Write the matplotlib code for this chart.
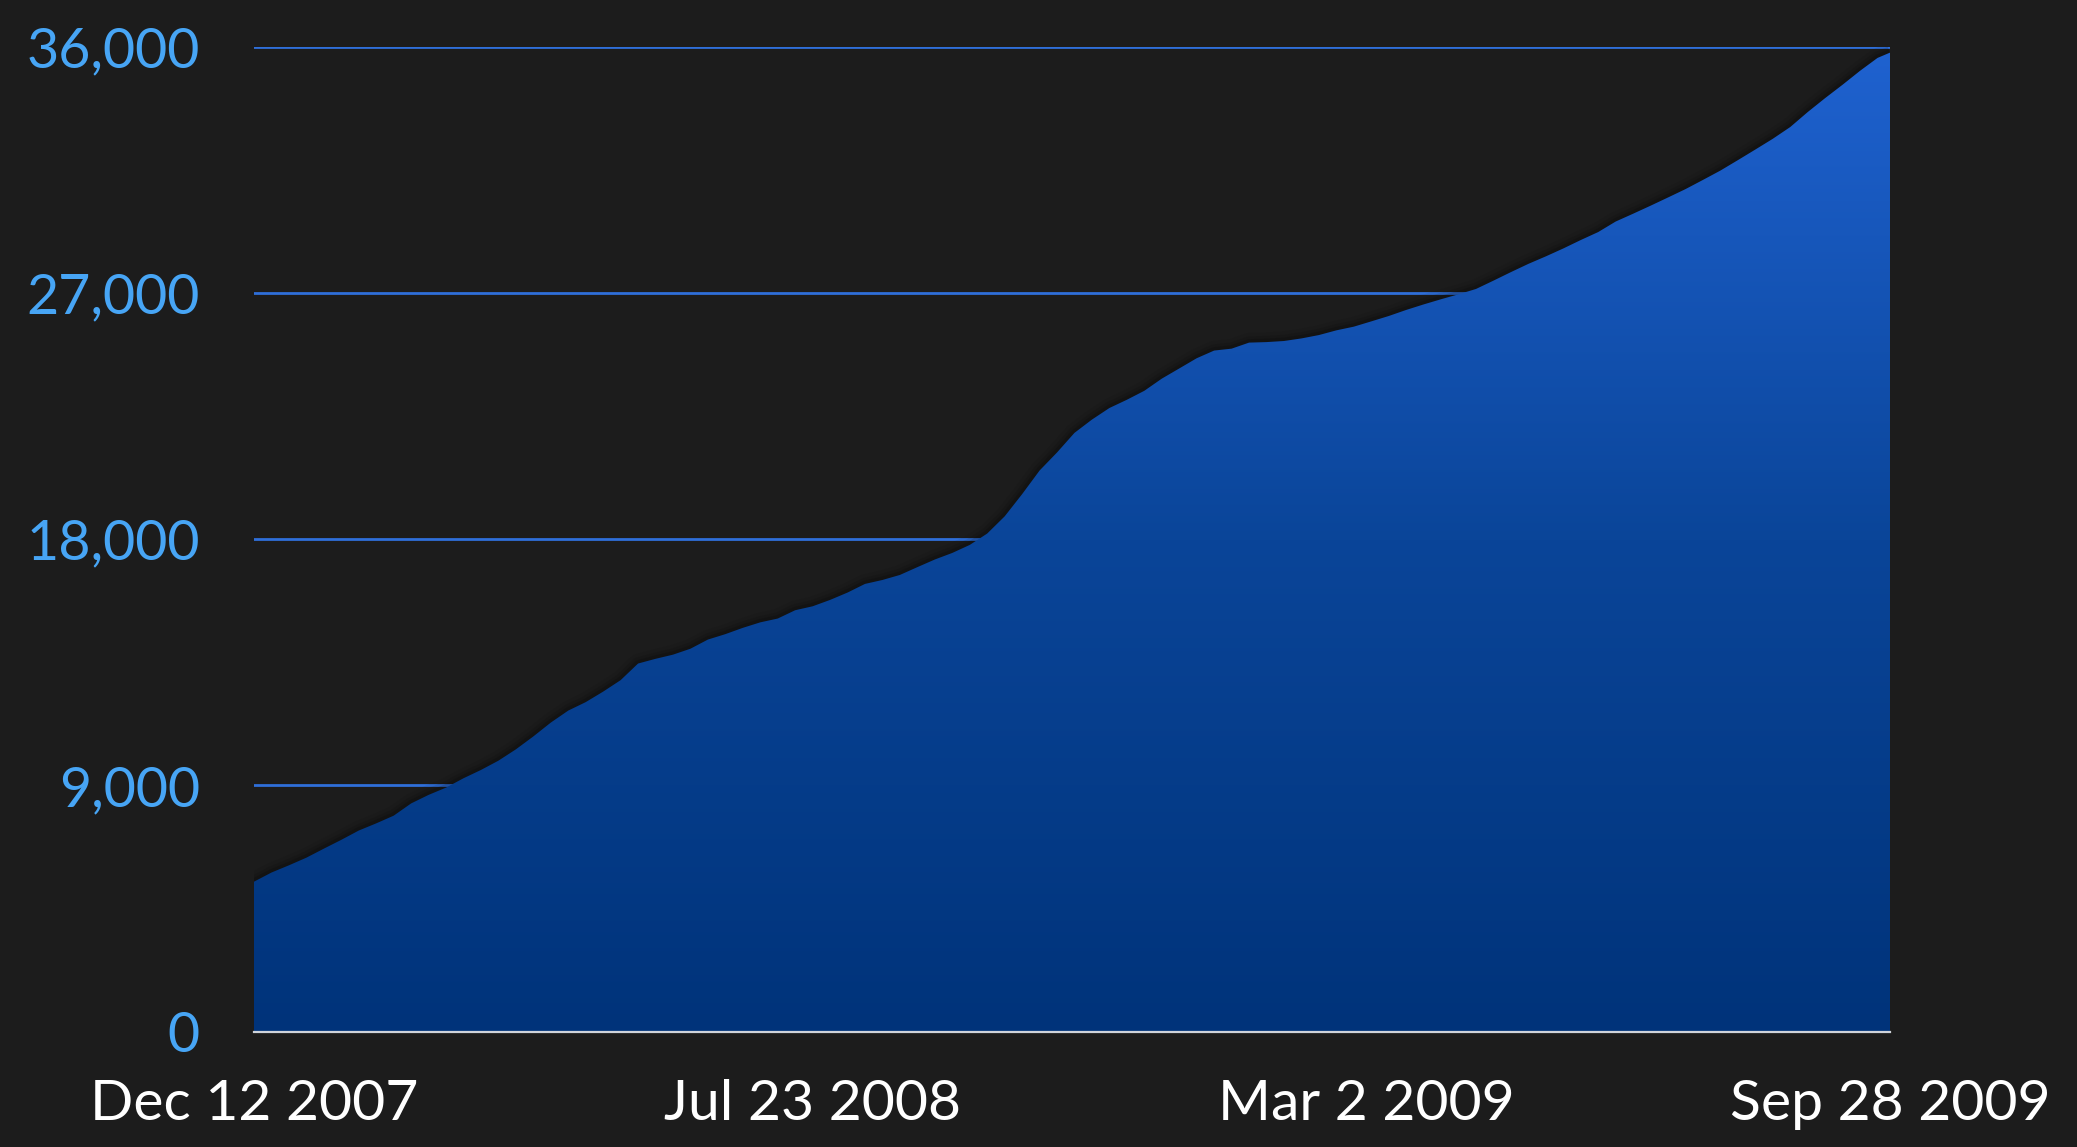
import matplotlib
matplotlib.use("Agg")
import matplotlib.pyplot as plt
import matplotlib.dates as mdates
from matplotlib.colors import LinearSegmentedColormap
import numpy as np
import pandas as pd

# ---- data (weekly readings from Dec 12 2007, last point Sep 28 2009) ----
start_date = "2007-12-12"
end_date = "2009-09-28"
values = [
    5483, 5817, 6081, 6360, 6690, 7012, 7352, 7614, 7895, 8343,
    8655, 8921, 9263, 9566, 9905, 10319, 10791, 11297, 11736, 12045,
    12429, 12848, 13456, 13628, 13780, 13997, 14332, 14530, 14760, 14961,
    15100, 15404, 15548, 15781, 16050, 16366, 16510, 16694, 16979, 17258,
    17498, 17791, 18207, 18835, 19647, 20510, 21170, 21887, 22372, 22795,
    23096, 23424, 23868, 24240, 24614, 24895, 24964, 25185, 25204, 25244,
    25338, 25461, 25633, 25768, 25961, 26157, 26379, 26581, 26771, 26952,
    27146, 27450, 27762, 28063, 28337, 28626, 28934, 29226, 29610, 29896,
    30189, 30490, 30795, 31131, 31473, 31854, 32241, 32634, 33064, 33611,
    34122, 34611, 35120, 35590, 35784,
]
y_ticks = [0, 9000, 18000, 27000, 36000]
y_tick_labels = ["0", "9,000", "18,000", "27,000", "36,000"]
x_tick_dates = ["2007-12-12", "2008-07-23", "2009-03-02", "2009-09-28"]
x_tick_labels = ["Dec 12 2007", "Jul 23 2008", "Mar 2 2009", "Sep 28 2009"]

dates = list(pd.date_range(start_date, periods=len(values) - 1, freq="7D")) + [pd.Timestamp(end_date)]
x = mdates.date2num(dates)
y = np.array(values, dtype=float)

# ---- figure ----
W, H = 2077, 1147
dpi = 100
bg = "#1c1c1c"
fig = plt.figure(figsize=(W / dpi, H / dpi), dpi=dpi, facecolor=bg)
ax = fig.add_axes([254 / W, 1 - 1031.7 / H, (1890 - 254) / W, (1031.7 - 46.7) / H])
ax.set_facecolor(bg)

x0, x1 = mdates.date2num(pd.Timestamp(start_date)), mdates.date2num(pd.Timestamp(end_date))
ax.set_xlim(x0, x1)
ax.set_ylim(0, 36000)

# gridlines
for t in y_ticks[1:]:
    ax.axhline(t, color="#2f6fd9", lw=2.0, zorder=1)

# shadow along the curve
for lw, a in [(14, 0.06), (9, 0.09), (5, 0.14)]:
    ax.plot(x, y, color="black", lw=lw, alpha=a, zorder=2, solid_capstyle="butt")

# gradient fill
poly = ax.fill_between(x, 0, y, color="none", lw=0, zorder=3)
cmap = LinearSegmentedColormap.from_list("g", ["#00337a", "#0a4599", "#1f62d0"])
grad = np.linspace(0, 1, 512).reshape(-1, 1)
im = ax.imshow(grad, cmap=cmap, origin="lower", aspect="auto",
               extent=[x0, x1, 0, 36000], zorder=3, interpolation="bicubic")
path = poly.get_paths()[0]
im.set_clip_path(path, transform=ax.transData)

# baseline
ax.axhline(0, color="#cfd3da", lw=1.6, zorder=5, clip_on=False)

for s in ax.spines.values():
    s.set_visible(False)

font = ["Lato", "DejaVu Sans"]
ax.set_yticks(y_ticks)
ax.set_yticklabels(y_tick_labels, family=font, fontsize=40, color="#47a5f5")
ax.set_xticks(mdates.date2num(pd.to_datetime(x_tick_dates)))
ax.set_xticklabels(x_tick_labels, family=font, fontsize=41, color="white")
ax.tick_params(axis="y", length=0, pad=39)
ax.tick_params(axis="x", length=0, pad=34)

fig.savefig("out.png", dpi=dpi, facecolor=bg)
